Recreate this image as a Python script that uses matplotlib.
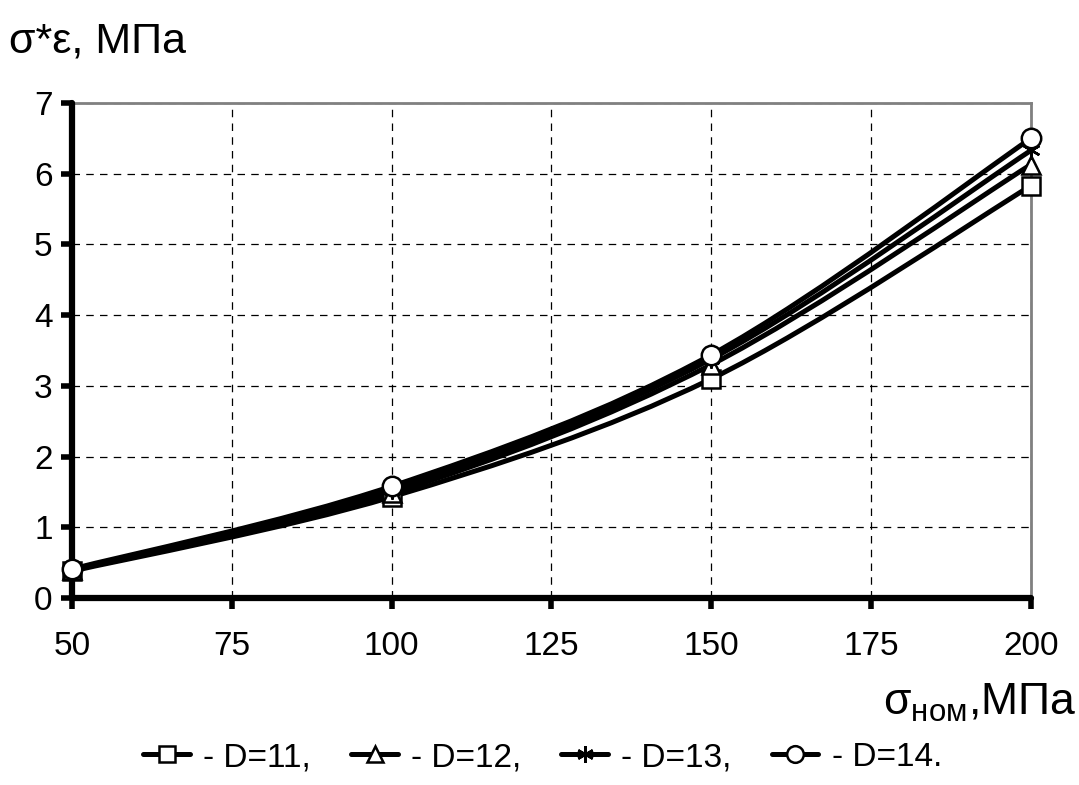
import matplotlib
matplotlib.use('Agg')
import matplotlib.pyplot as plt
from matplotlib.path import Path
from matplotlib.patches import PathPatch
from matplotlib.lines import Line2D

plt.rcParams['font.family'] = ['Liberation Sans', 'DejaVu Sans']

sigma_nom = [50, 100, 150, 200]
d11 = [0.38, 1.43, 3.10, 5.83]
d12 = [0.39, 1.48, 3.30, 6.13]
d13 = [0.40, 1.53, 3.38, 6.33]
d14 = [0.41, 1.58, 3.44, 6.50]
series = [('- D=11,', d11, 's'), ('- D=12,', d12, '^'),
          ('- D=13,', d13, (6, 2, 0)), ('- D=14.', d14, 'o')]


def smooth_path(x, y):
    # Excel-style smoothed line: Catmull-Rom segments as cubic Bezier
    pts = list(zip(x, y))
    verts = [pts[0]]
    codes = [Path.MOVETO]
    n = len(pts)
    for i in range(n - 1):
        p0 = pts[i - 1] if i > 0 else pts[i]
        p1 = pts[i]
        p2 = pts[i + 1]
        p3 = pts[i + 2] if i + 2 < n else pts[i + 1]
        c1 = (p1[0] + (p2[0] - p0[0]) / 6, p1[1] + (p2[1] - p0[1]) / 6)
        c2 = (p2[0] - (p3[0] - p1[0]) / 6, p2[1] - (p3[1] - p1[1]) / 6)
        verts += [c1, c2, p2]
        codes += [Path.CURVE4] * 3
    return Path(verts, codes)


fig = plt.figure(figsize=(10.79, 7.85), dpi=100)
ax = fig.add_axes([0.0667, 0.2382, 0.8888, 0.6306])

handles = []
for label, vals, marker in series:
    ax.add_patch(PathPatch(smooth_path(sigma_nom, vals), facecolor='none',
                           edgecolor='black', lw=3.6, zorder=3))
    ms = 13 if marker != 'o' else 14
    ax.plot(sigma_nom, vals, linestyle='none', marker=marker, ms=ms,
            mfc='white', mec='black', mew=1.8, zorder=6, clip_on=False)
    handles.append(Line2D([], [], color='black', lw=3.6, marker=marker,
                          ms=12, mfc='white', mec='black', mew=1.8,
                          solid_capstyle='round', label=label))

ax.set_xlim(50, 200)
ax.set_ylim(0, 7)
ax.set_xticks([50, 75, 100, 125, 150, 175, 200])
ax.set_yticks(range(8))
ax.grid(True, color='black', linestyle=(0, (6, 5)), lw=0.9)
ax.set_axisbelow(True)

for side in ['left', 'bottom']:
    ax.spines[side].set_linewidth(4.5)
    ax.spines[side].set_capstyle('round')
    ax.spines[side].set_zorder(5)
for side in ['top', 'right']:
    ax.spines[side].set_linewidth(2)
    ax.spines[side].set_color('#808080')
ax.tick_params(direction='out', length=8, width=4, labelsize=24, pad=6)
ax.tick_params(axis='x', pad=16)

fig.text(0.008, 0.972, 'σ*ε, МПа', fontsize=31, va='top', ha='left')
fig.text(0.997, 0.078, r'σ$_{\mathregular{ном}}$,МПа', fontsize=32,
         ha='right', va='bottom')

fig.legend(handles=handles, loc='center', bbox_to_anchor=(0.503, 0.035),
           ncol=4, frameon=False, fontsize=24, handlelength=1.4,
           handletextpad=0.4, columnspacing=1.2)

fig.savefig('out.png', dpi=100)
